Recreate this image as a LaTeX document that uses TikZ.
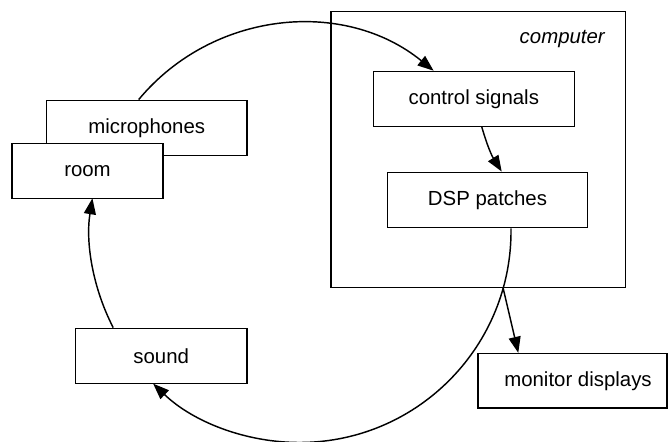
\documentclass[tikz,border=0pt]{standalone}
\usepackage{fontspec}
\setmainfont{Liberation Sans}
\usetikzlibrary{arrows.meta,calc}

\begin{document}
\begin{tikzpicture}[x=1pt,y=1pt,
  line width=1.45pt,
  every node/.style={font=\fontsize{20.4}{24}\selectfont},
  box/.style={draw, fill=white, rectangle, inner sep=0pt},
  arr/.style={-{Triangle[length=16pt,width=12pt]}},
]
\useasboundingbox (0,0) rectangle (668,441);

% the computer enclosure and its caption
\node[draw, rectangle, inner sep=0pt, minimum width=294.3pt, minimum height=275.6pt]
  (comp) at (478.2,291.5) {};
\node[anchor=east, inner sep=0pt, font=\fontsize{20.4}{24}\selectfont\itshape]
  (complabel) at (605.5,402) {computer};

% processing stages inside the computer
\node[box, minimum width=201pt, minimum height=55pt] (ctrl) at (473.8,342.2) {control signals};
\node[box, minimum width=200.4pt, minimum height=55.4pt] (dsp) at (487.5,241) {DSP patches};

% the acoustic side
\node[box, minimum width=200.7pt, minimum height=55pt] (mic) at (146.7,313.2) {microphones};
\node[box, minimum width=151pt, minimum height=55pt] (room) at (87.5,269.8) {room};
\node[box, minimum width=171.7pt, minimum height=55pt] (sound) at (161.2,85.2) {sound};

% visual output
\node[box, minimum width=189pt, minimum height=54.5pt] (mon) at (572.5,60.2)
  {\hspace*{11pt}monitor displays};

% the feedback loop
\draw[arr] ([xshift=-8pt]mic.north) arc[start angle=140.3, end angle=50.88, radius=210.6pt];
\draw[arr] ([xshift=8pt]ctrl.south) to[bend right=8] ([xshift=14.2pt]dsp.north);
\draw[arr] ([xshift=23.5pt]dsp.south) arc[start angle=0.7, end angle=-133.8, radius=211.5pt];
\draw[arr] ([xshift=-48pt]sound.north) arc[start angle=207.3, end angle=170.96, radius=210pt];

% branch towards the displays where the loop leaves the computer
\coordinate (split) at ($(comp.south)+(24.9,0)$);
\draw[arr] (split) -- ([xshift=41pt]mon.north west);
\end{tikzpicture}
\end{document}
